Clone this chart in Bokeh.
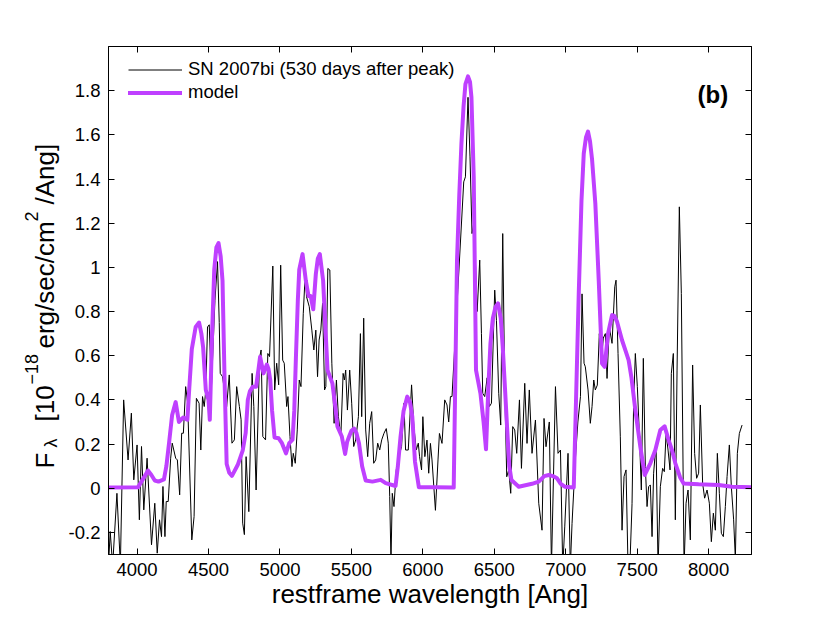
import numpy as np
from bokeh.plotting import figure
from bokeh.layouts import row
from bokeh.models import (Range1d, FixedTicker, LinearAxis, CustomJSTickFormatter,
                          Label, Legend, LegendItem)
from bokeh.core.properties import value
from bokeh.embed import file_html
from bokeh.resources import INLINE

# ---------------- data ----------------
obs_wl = [3800, 3812, 3829, 3859, 3883, 3906, 3937, 3960, 3977, 4000, 4016, 4031, 4047, 4070,
          4101, 4124, 4141, 4157, 4171, 4181, 4195, 4204, 4218, 4235, 4246, 4270, 4282, 4298,
          4312, 4324, 4340, 4354, 4383, 4399, 4415, 4434, 4446, 4458, 4470, 4481, 4493, 4505,
          4520, 4545, 4563, 4575, 4582, 4598, 4627, 4645, 4664, 4681, 4697, 4716, 4728, 4739,
          4751, 4763, 4782, 4805, 4817, 4833, 4857, 4868, 4880, 4899, 4915, 4927, 4950, 4963,
          4977, 4991, 5005, 5019, 5030, 5047, 5056, 5070, 5084, 5093, 5107, 5121, 5135, 5147,
          5163, 5177, 5186, 5205, 5223, 5237, 5251, 5263, 5274, 5286, 5298, 5312, 5321, 5335,
          5349, 5363, 5379, 5395, 5409, 5426, 5442, 5451, 5460, 5472, 5488, 5502, 5516, 5530,
          5549, 5563, 5572, 5586, 5600, 5614, 5628, 5642, 5656, 5670, 5684, 5698, 5712, 5728,
          5744, 5758, 5768, 5777, 5786, 5798, 5814, 5833, 5851, 5868, 5879, 5898, 5921, 5937,
          5954, 5968, 5977, 5991, 6000, 6014, 6029, 6041, 6053, 6064, 6088, 6106, 6116, 6134,
          6153, 6169, 6181, 6193, 6204, 6245, 6286, 6298, 6316, 6330, 6344, 6356, 6368, 6380,
          6398, 6410, 6419, 6433, 6450, 6466, 6480, 6503, 6515, 6531, 6545, 6559, 6573, 6587,
          6601, 6615, 6629, 6643, 6657, 6676, 6690, 6713, 6729, 6745, 6764, 6788, 6811, 6834,
          6848, 6862, 6885, 6900, 6928, 6946, 6963, 6979, 6993, 7016, 7032, 7044, 7067, 7085,
          7103, 7114, 7128, 7137, 7156, 7172, 7184, 7196, 7207, 7221, 7235, 7249, 7263, 7277,
          7289, 7305, 7324, 7343, 7352, 7366, 7382, 7394, 7408, 7422, 7436, 7450, 7464, 7475,
          7487, 7501, 7515, 7529, 7543, 7557, 7569, 7580, 7592, 7604, 7615, 7632, 7646, 7662,
          7678, 7690, 7702, 7716, 7730, 7739, 7753, 7767, 7779, 7795, 7809, 7828, 7842, 7856,
          7872, 7888, 7902, 7916, 7930, 7942, 7958, 7972, 7989, 8005, 8019, 8033, 8047, 8061,
          8075, 8089, 8103, 8117, 8129, 8145, 8159, 8175, 8187, 8201, 8215, 8234]
obs_flux = [-0.35, -0.196, -0.35, -0.023, -0.35, 0.40, 0.128, 0.34, 0.038, 0.196, -0.143, 0.189,
            -0.098, 0.136, -0.256, -0.068, -0.294, -0.143, -0.219, 0.008, -0.219, -0.06, -0.06,
            0.136, 0.204, 0.136, 0.128, -0.03, 0.249, 0.249, 0.46, 0.385, -0.234, -0.128, 0.407,
            0.385, 0.173, 0.415, 0.37, 0.445, 0.73, 0.74, 0.45, 0.85, 1.026, 0.75, 0.52, 0.505,
            0.37, 0.513, 0.204, 0.219, 0.46, 0.37, 0.31, -0.158, -0.21, 0.143, -0.106, 0.52, 0.37,
            -0.008, 0.59, 0.626, 0.234, 0.219, 0.61, 0.596, 1.006, 0.445, 0.566, 0.468, 1.01,
            0.58, 0.566, 0.37, 0.415, 0.234, 0.098, 0.158, 0.113, 0.264, 0.49, 0.46, 0.79, 0.973,
            0.867, 0.822, 0.716, 0.626, 0.716, 0.505, 0.671, 0.716, 0.837, 0.445, 0.46, 0.995,
            0.988, 0.566, 0.294, 0.49, 0.324, 0.234, 0.52, 0.49, 0.535, 0.354, 0.535, 0.385,
            0.189, 0.219, 0.324, 0.70, 0.324, 0.77, 0.264, 0.143, 0.294, 0.347, 0.113, 0.128,
            0.204, 0.173, 0.219, 0.249, 0.27, 0.204, -0.038, -0.33, -0.023, -0.083, 0.083, 0.143,
            0.189, 0.385, 0.173, 0.173, 0.468, 0.28, 0.173, 0.204, 0.143, 0.083, 0.324, 0.143,
            0.218, 0.068, 0.203, 0.128, -0.1, 0.128, 0.248, 0.203, 0.40, 0.377, 0.30, 0.415,
            0.415, 0.90, 1.387, 1.41, 1.77, 1.50, 1.153, 1.20, 1.025, 0.80, 1.033, 0.70, 0.43,
            0.415, 0.50, 0.37, 0.385, 0.897, 0.76, 0.43, 0.286, 1.153, 0.46, 0.052, 0.083, -0.023,
            0.279, 0.264, 0.158, 0.40, 0.09, 0.475, 0.203, 0.445, 0.158, 0.309, -0.068, -0.19,
            0.316, 0.188, 0.30, -0.36, 0.46, 0.158, 0.173, -0.36, -0.175, 0.158, -0.36, -0.16,
            0.128, 0.30, 0.415, 0.88, 0.566, 0.55, 0.445, 0.294, 0.37, 0.49, 0.445, 0.467, 0.70,
            0.58, 0.68, 0.70, 0.497, 0.73, 0.656, 0.912, 0.942, 0.61, 0.233, -0.19, 0.053, 0.083,
            -0.36, -0.33, -0.07, 0.384, 0.61, 0.46, 0.248, -0.008, 0.588, 0.098, -0.083, 0.007,
            0.015, -0.219, 0.068, 0.203, -0.36, 0.007, 0.09, 0.075, 0.248, 0.173, 0.083, 0.52,
            0.61, -0.143, 0.535, 1.274, 0.882, -0.36, -0.068, -0.008, -0.234, 0.558, 0.158, 0.045,
            0.068, 0.377, 0.022, -0.045, -0.008, -0.068, -0.242, -0.113, -0.19, 0.158, -0.023,
            -0.204, -0.219, -0.083, 0.053, 0.196, 0.007, -0.143, -0.32, 0.158, 0.248, 0.286]

model_wl = [3800, 4007, 4040, 4077, 4100, 4124, 4150, 4188, 4205, 4223, 4245, 4270, 4293, 4322,
            4352, 4365, 4383, 4410, 4434, 4450, 4462, 4481, 4500, 4509, 4525, 4540, 4555, 4570,
            4585, 4598, 4612, 4627, 4645, 4664, 4704, 4739, 4760, 4775, 4790, 4810, 4833, 4850,
            4861, 4885, 4908, 4920, 4932, 4945, 4962, 4991, 5014, 5042, 5065, 5088, 5100, 5112,
            5125, 5135, 5158, 5181, 5200, 5215, 5233, 5251, 5265, 5279, 5302, 5320, 5333, 5367,
            5385, 5402, 5433, 5456, 5470, 5484, 5500, 5519, 5535, 5553, 5575, 5600, 5647, 5705,
            5740, 5809, 5825, 5844, 5865, 5891, 5910, 5926, 5945, 5972, 6089, 6216, 6239, 6255,
            6270, 6285, 6298, 6316, 6330, 6340, 6356, 6372, 6403, 6425, 6442, 6458, 6473, 6490,
            6508, 6526, 6545, 6559, 6575, 6589, 6605, 6620, 6671, 6764, 6811, 6850, 6881, 6910,
            6939, 6965, 6993, 7056, 7070, 7091, 7110, 7126, 7142, 7156, 7170, 7184, 7207, 7231,
            7254, 7272, 7296, 7324, 7340, 7359, 7394, 7420, 7440, 7460, 7487, 7522, 7553, 7575,
            7592, 7627, 7662, 7692, 7720, 7745, 7767, 7800, 7825, 7930, 8070, 8164, 8300]
model_flux = [0.003, 0.005, 0.04, 0.08, 0.06, 0.035, 0.03, 0.04, 0.10, 0.20, 0.33, 0.39, 0.30,
              0.32, 0.31, 0.45, 0.63, 0.73, 0.75, 0.70, 0.64, 0.445, 0.40, 0.31, 0.70, 0.99, 1.09,
              1.11, 1.05, 0.94, 0.50, 0.11, 0.07, 0.056, 0.105, 0.17, 0.25, 0.40, 0.44, 0.46, 0.46,
              0.54, 0.595, 0.52, 0.56, 0.54, 0.49, 0.35, 0.23, 0.226, 0.204, 0.158, 0.204, 0.22,
              0.35, 0.60, 0.85, 0.99, 1.06, 0.94, 0.87, 0.87, 0.81, 0.97, 1.04, 1.06, 0.94, 0.70,
              0.535, 0.475, 0.38, 0.28, 0.234, 0.155, 0.21, 0.234, 0.26, 0.27, 0.25, 0.204, 0.10,
              0.035, 0.03, 0.038, 0.023, 0.01, 0.10, 0.234, 0.35, 0.415, 0.39, 0.324, 0.12, 0.005,
              0.005, 0.003, 1.03, 1.33, 1.56, 1.73, 1.83, 1.865, 1.84, 1.77, 1.41, 0.535, 0.43,
              0.30, 0.176, 0.45, 0.655, 0.77, 0.82, 0.837, 0.77, 0.64, 0.45, 0.28, 0.10, 0.037,
              0.007, 0.02, 0.03, 0.055, 0.06, 0.055, 0.045, 0.02, 0.007, 0.003, 0.35, 0.88, 1.30,
              1.515, 1.59, 1.615, 1.57, 1.49, 1.29, 0.94, 0.565, 0.55, 0.70, 0.784, 0.78, 0.754,
              0.67, 0.62, 0.58, 0.50, 0.354, 0.188, 0.06, 0.09, 0.113, 0.173, 0.264, 0.28, 0.218,
              0.17, 0.113, 0.05, 0.022, 0.018, 0.015, 0.007, 0.004]

x_ticks = [4000, 4500, 5000, 5500, 6000, 6500, 7000, 7500, 8000]
y_ticks = [-0.2, 0, 0.2, 0.4, 0.6, 0.8, 1.0, 1.2, 1.4, 1.6, 1.8]
obs_label = "SN 2007bi (530 days after peak)"
model_label = "model"
x_title = "restframe wavelength [Ang]"
panel_tag = "(b)"
# y title pieces: F_lambda [10^-18 erg/sec/cm^2/Ang]
y_title_text = ["F", "\u03bb", "[10", "\u221218", "erg/sec/cm", "2", "/Ang]"]
y_title_kind = ["main", "sub", "main", "sup", "main", "sup", "main"]

FONT = "Liberation Sans"
PURPLE = "#BF40FF"
PAGE_W, PAGE_H = 830, 625
LBL_W = 60
TOP, BOT = 46, 554          # page y of the plot frame's top and bottom edges

# ---------------- y-title strip (a bare figure holding the composed title) ----------------
# its frame shares the main frame's vertical extent; its data y equals (PAGE_H - page y)
lab = figure(width=LBL_W, height=PAGE_H, output_backend="svg", toolbar_location=None,
             x_range=Range1d(0, LBL_W), y_range=Range1d(PAGE_H - BOT, PAGE_H - TOP),
             x_axis_type=None, y_axis_type=None, min_border_left=0, min_border_right=0,
             min_border_top=TOP, min_border_bottom=PAGE_H - BOT,
             outline_line_color=None, background_fill_color="white",
             border_fill_color="white")
lab.xgrid.visible = False
lab.ygrid.visible = False
start_y = [468, 447, 421, 384, 348, 221, 204]   # page y where each piece starts (reads upward)
base_x = {"main": 44, "sub": 50, "sup": 31}
size = {"main": "26px", "sub": "18px", "sup": "18px"}
for txt, kind, sy in zip(y_title_text, y_title_kind, start_y):
    lab.text(x=[base_x[kind]], y=[PAGE_H - sy], text=[txt], angle=np.pi / 2,
             text_font=value(FONT), text_font_size=value(size[kind]), text_color="black",
             text_align="left", text_baseline="alphabetic")

# ---------------- main figure ----------------
W = PAGE_W - LBL_W
p = figure(width=W, height=PAGE_H, output_backend="svg", toolbar_location=None,
           x_range=Range1d(3800, 8300), y_range=Range1d(-0.3, 2.0),
           min_border_left=108 - LBL_W, min_border_right=PAGE_W - 751, min_border_top=TOP,
           min_border_bottom=PAGE_H - BOT, background_fill_color="white",
           border_fill_color="white")
p.xgrid.visible = False
p.ygrid.visible = False
p.outline_line_color = "black"
p.outline_line_width = 1

bottom_ax = p.xaxis[0]
left_ax = p.yaxis[0]

blank = CustomJSTickFormatter(code="return '';")
yfmt = CustomJSTickFormatter(code="""
var s = tick.toFixed(1);
if (s.endsWith('.0')) { s = s.slice(0, -2); }
if (s === '-0') { s = '0'; }
return s;
""")

top_ax = LinearAxis(formatter=blank)
right_ax = LinearAxis(formatter=blank)
p.add_layout(top_ax, "above")
p.add_layout(right_ax, "right")

for ax in [bottom_ax, top_ax]:
    ax.ticker = FixedTicker(ticks=x_ticks)
for ax in [left_ax, right_ax]:
    ax.ticker = FixedTicker(ticks=y_ticks)
left_ax.formatter = yfmt

for ax in [bottom_ax, left_ax, top_ax, right_ax]:
    ax.major_tick_in = 6
    ax.major_tick_out = 0
    ax.minor_tick_line_color = None
    ax.axis_line_color = "black"
    ax.major_tick_line_color = "black"
    ax.major_label_text_font = FONT
    ax.major_label_text_font_size = "18.5px"
    ax.major_label_text_color = "black"
    ax.major_label_standoff = 8

bottom_ax.axis_label = x_title
bottom_ax.axis_label_text_font = FONT
bottom_ax.axis_label_text_font_size = "26px"
bottom_ax.axis_label_text_font_style = "normal"
bottom_ax.axis_label_text_color = "black"
bottom_ax.axis_label_standoff = 0
bottom_ax.major_label_standoff = 8

# ---------------- lines ----------------
r_obs = p.line(obs_wl, obs_flux, line_color="black", line_width=1)
r_mod = p.line(model_wl, model_flux, line_color=PURPLE, line_width=4,
               line_join="round", line_cap="round")

legend = Legend(items=[LegendItem(label=obs_label, renderers=[r_obs]),
                       LegendItem(label=model_label, renderers=[r_mod])],
                location=(20, 508 - 14 - 43), border_line_color=None,
                background_fill_alpha=0, padding=0, margin=0, spacing=1,
                glyph_width=54, glyph_height=21, label_height=21, label_standoff=6,
                label_text_font=FONT, label_text_font_size="18.5px",
                label_text_color="black")
p.add_layout(legend)

p.add_layout(Label(x=589, y=508 - 48, x_units="screen", y_units="screen",
                   text=panel_tag, text_font=FONT, text_font_size="24px",
                   text_font_style="bold", text_color="black",
                   text_align="left", text_baseline="alphabetic"))

layout = row(lab, p, spacing=0)
open("out.html", "w").write(file_html(layout, INLINE))
